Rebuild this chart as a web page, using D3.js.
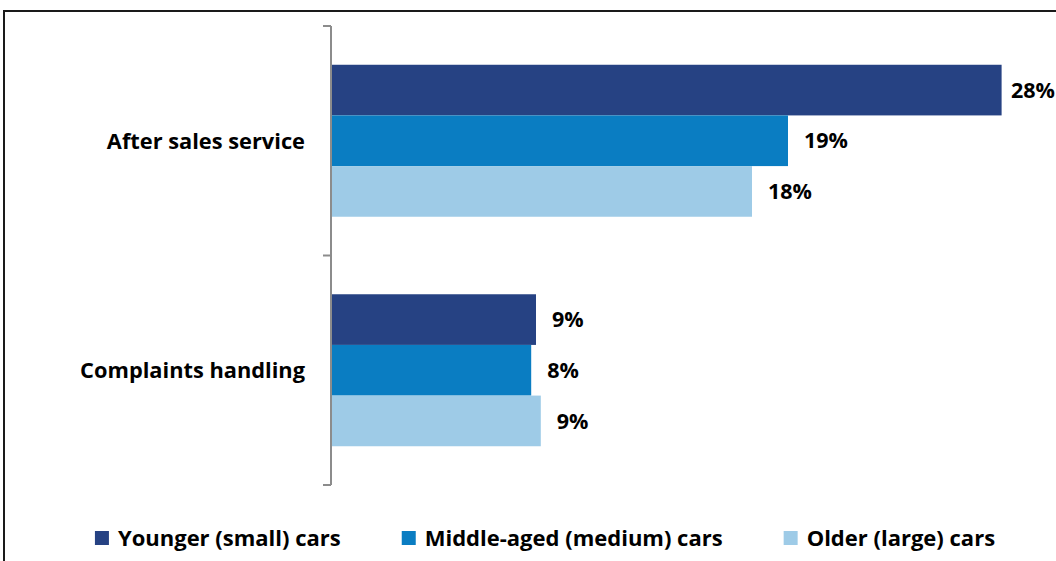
<!DOCTYPE html>
<html>
<head>
<meta charset="utf-8">
<script src="https://cdn.jsdelivr.net/npm/d3@7"></script>
<style>
  html, body { margin: 0; padding: 0; background: #fff; }
  svg { display: block; }
  text { font-family: "Open Sans", Lato, sans-serif; font-weight: 700; fill: #000; }
</style>
</head>
<body>
<svg id="chart" width="1056" height="561"></svg>
<script>
// Share of respondents citing each dealer issue, by car segment (%)
const categories = ["After sales service", "Complaints handling"];
const seriesNames = ["Younger (small) cars", "Middle-aged (medium) cars", "Older (large) cars"];
const younger = [27.9, 8.5];
const middle  = [19.0, 8.3];
const older   = [17.5, 8.7];
const seriesColors = ["#264283", "#0A7DC2", "#9ECBE7"];

const W = 1056, H = 561;
const svg = d3.select("#chart");

// outer frame
svg.append("rect")
  .attr("x", 4).attr("y", 11)
  .attr("width", W + 20).attr("height", H + 20)
  .attr("fill", "none").attr("stroke", "#1a1a1a").attr("stroke-width", 2);

const plot = { left: 332, top: 26, bottom: 485 };

const y = d3.scaleBand().domain(categories).range([plot.top, plot.bottom]).padding(0);
const ySub = d3.scaleBand().domain(d3.range(seriesNames.length))
  .range([0, y.bandwidth()]).paddingInner(0).paddingOuter(0.765);
const x = d3.scaleLinear().domain([0, 30]).range([plot.left, plot.left + 720]);

const series = [younger, middle, older];
const rows = [];
categories.forEach((c, ci) => {
  series.forEach((vals, si) => rows.push({ cat: c, s: si, v: vals[ci] }));
});

const fmt = d => d3.format(".0f")(d) + "%";

// bars
svg.append("g").selectAll("rect").data(rows).join("rect")
  .attr("x", x(0))
  .attr("y", d => y(d.cat) + ySub(d.s))
  .attr("width", d => x(d.v) - x(0))
  .attr("height", ySub.bandwidth())
  .attr("fill", d => seriesColors[d.s]);

// value labels, kept inside the frame when a bar runs long
const labels = svg.append("g").selectAll("text").data(rows).join("text")
  .attr("y", d => y(d.cat) + ySub(d.s) + ySub.bandwidth() / 2)
  .attr("dy", "0.36em")
  .attr("font-size", 21.5)
  .text(d => fmt(d.v));
labels.attr("x", function(d) {
  const w = this.getComputedTextLength();
  return Math.min(x(d.v) + 16, W - 1 - w);
});

// category axis: vertical line with ticks at band boundaries
const axis = svg.append("g").attr("stroke", "#8c8c8c").attr("stroke-width", 2).attr("fill", "none");
axis.append("line")
  .attr("x1", plot.left - 1).attr("x2", plot.left - 1)
  .attr("y1", plot.top).attr("y2", plot.bottom);
const boundaries = categories.map(c => y(c)).concat([y.range()[1]]);
axis.selectAll("line.tick").data(boundaries).join("line")
  .attr("class", "tick")
  .attr("x1", plot.left - 9).attr("x2", plot.left - 1)
  .attr("y1", d => d).attr("y2", d => d);

// category labels
svg.append("g").selectAll("text").data(categories).join("text")
  .attr("x", plot.left - 27)
  .attr("y", d => y(d) + y.bandwidth() / 2)
  .attr("dy", "0.36em")
  .attr("text-anchor", "end")
  .attr("font-size", 21.8)
  .text(d => d);

// legend
const legend = svg.append("g");
const items = legend.selectAll("g").data(seriesNames).join("g");
items.append("rect")
  .attr("y", 531).attr("width", 14).attr("height", 14)
  .attr("fill", (d, i) => seriesColors[i]);
items.append("text")
  .attr("x", 23).attr("y", 546)
  .attr("font-size", 22)
  .text(d => d);
const gap = 61;
const widths = [];
items.each(function() { widths.push(23 + d3.select(this).select("text").node().getComputedTextLength()); });
const total = d3.sum(widths) + gap * (widths.length - 1);
let cx = 545 - total / 2;
items.attr("transform", (d, i) => {
  const t = `translate(${cx},0)`;
  cx += widths[i] + gap;
  return t;
});
</script>
</body>
</html>
